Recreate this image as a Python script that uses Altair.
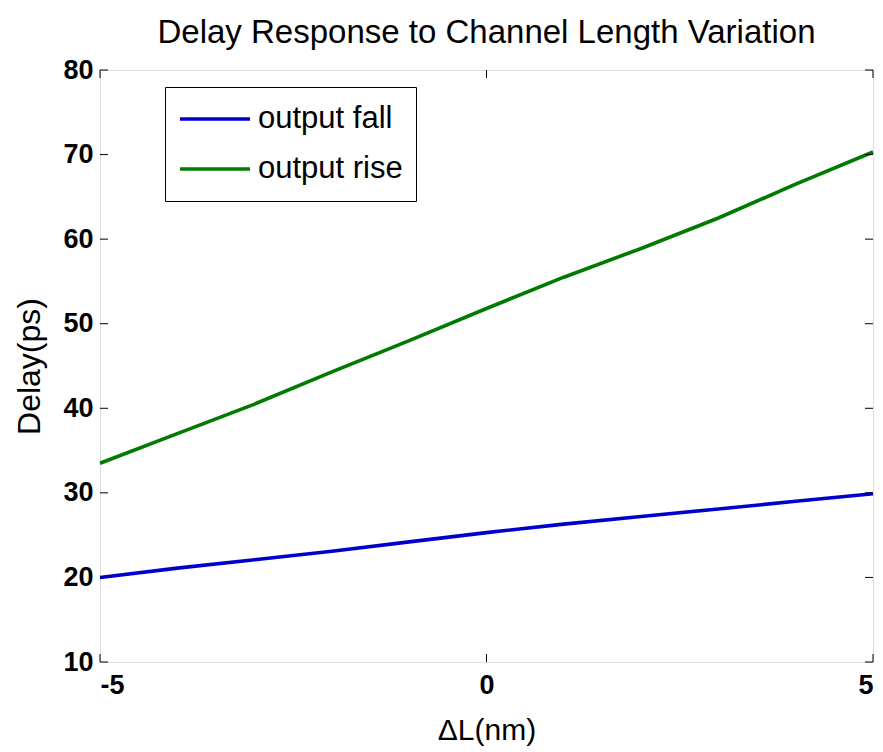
import altair as alt
import pandas as pd

# Data
dl = [-5, -4, -3, -2, -1, 0, 1, 2, 3, 4, 5]
fall = [20.0, 21.1, 22.1, 23.1, 24.2, 25.3, 26.3, 27.2, 28.1, 29.0, 29.9]
rise = [33.5, 37.0, 40.5, 44.3, 48.0, 51.8, 55.5, 58.9, 62.5, 66.5, 70.3]
series_names = ["output fall", "output rise"]
series_colors = ["#0000cc", "#007a00"]
y_ticks = [10, 20, 30, 40, 50, 60, 70, 80]
x_ticks = [-5, 0, 5]

rows = []
for x, f, r in zip(dl, fall, rise):
    rows.append({"dL": x, "delay": f, "series": series_names[0]})
    rows.append({"dL": x, "delay": r, "series": series_names[1]})
df = pd.DataFrame(rows)

W, H = 773, 592
FONT = "Liberation Sans"

xscale = alt.Scale(domain=[-5, 5], nice=False, zero=False)
yscale = alt.Scale(domain=[10, 80], nice=False, zero=False)

lines = alt.Chart(df).mark_line(strokeWidth=3.6).encode(
    x=alt.X("dL:Q", scale=xscale,
            axis=alt.Axis(values=x_ticks, title="ΔL(nm)", grid=False, ticks=False,
                          domain=False, labelFontSize=27, labelFont=FONT,
                          labelFontWeight="bold", labelPadding=10,
                          labelExpr="'' + datum.value",
                          titleFontSize=30, titleFont=FONT, titleFontWeight="normal",
                          titlePadding=17, labelColor="black", titleColor="black")),
    y=alt.Y("delay:Q", scale=yscale,
            axis=alt.Axis(values=y_ticks, title="Delay(ps)", grid=False, ticks=False,
                          domain=False, labelFontSize=27, labelFont=FONT,
                          labelFontWeight="bold", labelPadding=7,
                          titleFontSize=32, titleFont=FONT, titleFontWeight="normal",
                          titlePadding=16, labelColor="black", titleColor="black")),
    color=alt.Color("series:N",
                    scale=alt.Scale(domain=series_names, range=series_colors),
                    legend=alt.Legend(title=None, orient="none", legendX=65, legendY=17,
                                      symbolType="stroke", symbolSize=4900,
                                      symbolStrokeWidth=3.5, labelFontSize=31,
                                      labelFont=FONT, labelColor="black",
                                      labelOffset=6, clipHeight=38, rowPadding=12,
                                      padding=13, strokeColor="black",
                                      fillColor="white", cornerRadius=0)),
)

ytick_df = pd.DataFrame({"v": y_ticks})
xtick_df = pd.DataFrame({"v": x_ticks})

yt_left = alt.Chart(ytick_df).mark_rule(color="black", strokeWidth=1).encode(
    y=alt.Y("v:Q", scale=yscale), x=alt.value(0), x2=alt.value(8))
yt_right = alt.Chart(ytick_df).mark_rule(color="black", strokeWidth=1).encode(
    y=alt.Y("v:Q", scale=yscale), x=alt.value(W - 8), x2=alt.value(W))
xt_bot = alt.Chart(xtick_df).mark_rule(color="black", strokeWidth=1).encode(
    x=alt.X("v:Q", scale=xscale), y=alt.value(H - 8), y2=alt.value(H))
xt_top = alt.Chart(xtick_df).mark_rule(color="black", strokeWidth=1).encode(
    x=alt.X("v:Q", scale=xscale), y=alt.value(0), y2=alt.value(8))

chart = alt.layer(lines, yt_left, yt_right, xt_bot, xt_top).properties(
    width=W, height=H,
    title=alt.TitleParams("Delay Response to Channel Length Variation",
                          fontSize=33, font=FONT, fontWeight="normal",
                          color="black", anchor="middle", offset=6),
    autosize=alt.AutoSizeParams(type="none"),
    padding={"left": 100, "top": 70, "right": 10, "bottom": 90},
).configure_view(stroke="black", strokeWidth=1.5).configure(background="white")

chart.save("out.html", embed_options={"renderer": "svg", "actions": False})
